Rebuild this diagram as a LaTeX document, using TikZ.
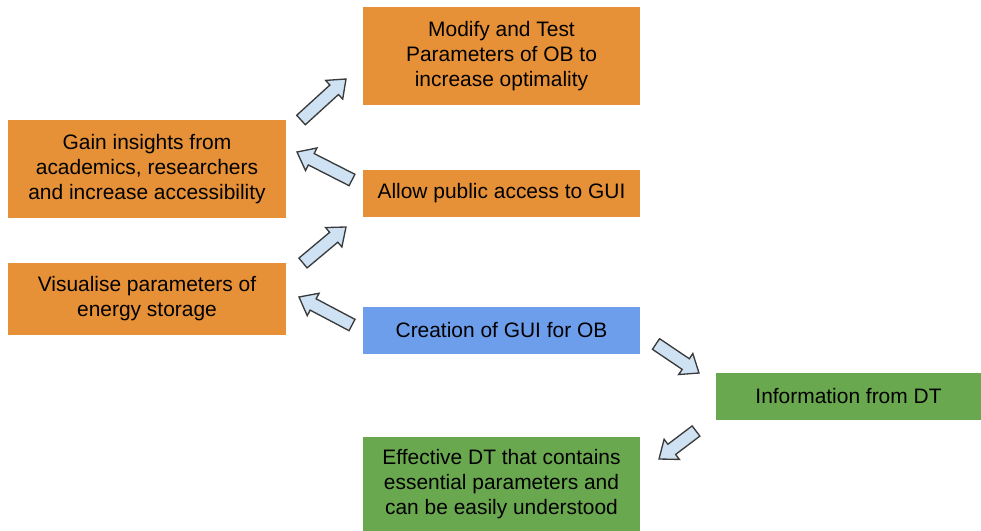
\documentclass[tikz,border=0pt]{standalone}
\usepackage{fontspec}
\setmainfont{Liberation Sans}
\usetikzlibrary{calc}

\definecolor{boxorange}{HTML}{E69138}
\definecolor{boxblue}{HTML}{6D9EEB}
\definecolor{boxgreen}{HTML}{6AA84F}
\definecolor{arrowfill}{HTML}{CFE2F3}
\definecolor{arrowline}{HTML}{3A3A3A}

\tikzset{
  box/.style={inner sep=0pt, align=center, font=\fontsize{15.7}{18.75}\selectfont,
    minimum width=277*0.75pt},
  orangebox/.style={box, fill=boxorange},
  bluebox/.style={box, fill=boxblue},
  greenbox/.style={box, fill=boxgreen},
  blockarrow/.style={draw=arrowline, fill=arrowfill, line width=1pt, line join=miter},
}

% block arrow from tail coordinate #1 to tip coordinate #2
\newcommand\blkarrow[2]{%
  \coordinate (hb) at ($(#2)!12pt!(#1)$);
  \draw[blockarrow]
    ($(#1)!4.8pt!90:(#2)$) -- ($(hb)!4.8pt!-90:(#1)$) -- ($(hb)!9.5pt!-90:(#1)$)
    -- (#2) -- ($(hb)!9.5pt!90:(#1)$) -- ($(hb)!4.8pt!90:(#1)$)
    -- ($(#1)!4.8pt!-90:(#2)$) -- cycle;
}

\begin{document}
\begin{tikzpicture}[x=0.75pt, y=-0.75pt]
  \useasboundingbox (0,0) rectangle (981,531);

  % boxes
  \node[orangebox, minimum height=98*0.75pt] (modify) at (501.5,56)
    {Modify and Test\\Parameters of OB to\\increase optimality};
  \node[orangebox, minimum height=98*0.75pt, minimum width=278*0.75pt] (gain) at (147,169)
    {Gain insights from\\academics, researchers\\and increase accessibility};
  \node[orangebox, minimum height=47*0.75pt] (allow) at (501.5,193.5)
    {Allow public access to GUI};
  \node[orangebox, minimum height=72*0.75pt, minimum width=278*0.75pt] (visual) at (147,299)
    {Visualise parameters of\\energy storage};
  \node[bluebox, minimum height=47*0.75pt] (create) at (501.5,330.5)
    {Creation of GUI for OB};
  \node[greenbox, minimum height=47*0.75pt, minimum width=265*0.75pt] (info) at (848.5,396.5)
    {Information from DT};
  \node[greenbox, minimum height=94*0.75pt] (effective) at (501.5,484)
    {Effective DT that contains\\essential parameters and\\can be easily understood};

  % tail and tip points of the block arrows
  \coordinate (a1t) at (301,120); \coordinate (a1p) at (346,79);
  \coordinate (a2t) at (352,180); \coordinate (a2p) at (297,152);
  \coordinate (a3t) at (303,263); \coordinate (a3p) at (346,227);
  \coordinate (a4t) at (352,325); \coordinate (a4p) at (299,297);
  \coordinate (a5t) at (656,344); \coordinate (a5p) at (699,373);
  \coordinate (a6t) at (696,431); \coordinate (a6p) at (659,459);

  \blkarrow{a1t}{a1p}
  \blkarrow{a2t}{a2p}
  \blkarrow{a3t}{a3p}
  \blkarrow{a4t}{a4p}
  \blkarrow{a5t}{a5p}
  \blkarrow{a6t}{a6p}
\end{tikzpicture}
\end{document}
